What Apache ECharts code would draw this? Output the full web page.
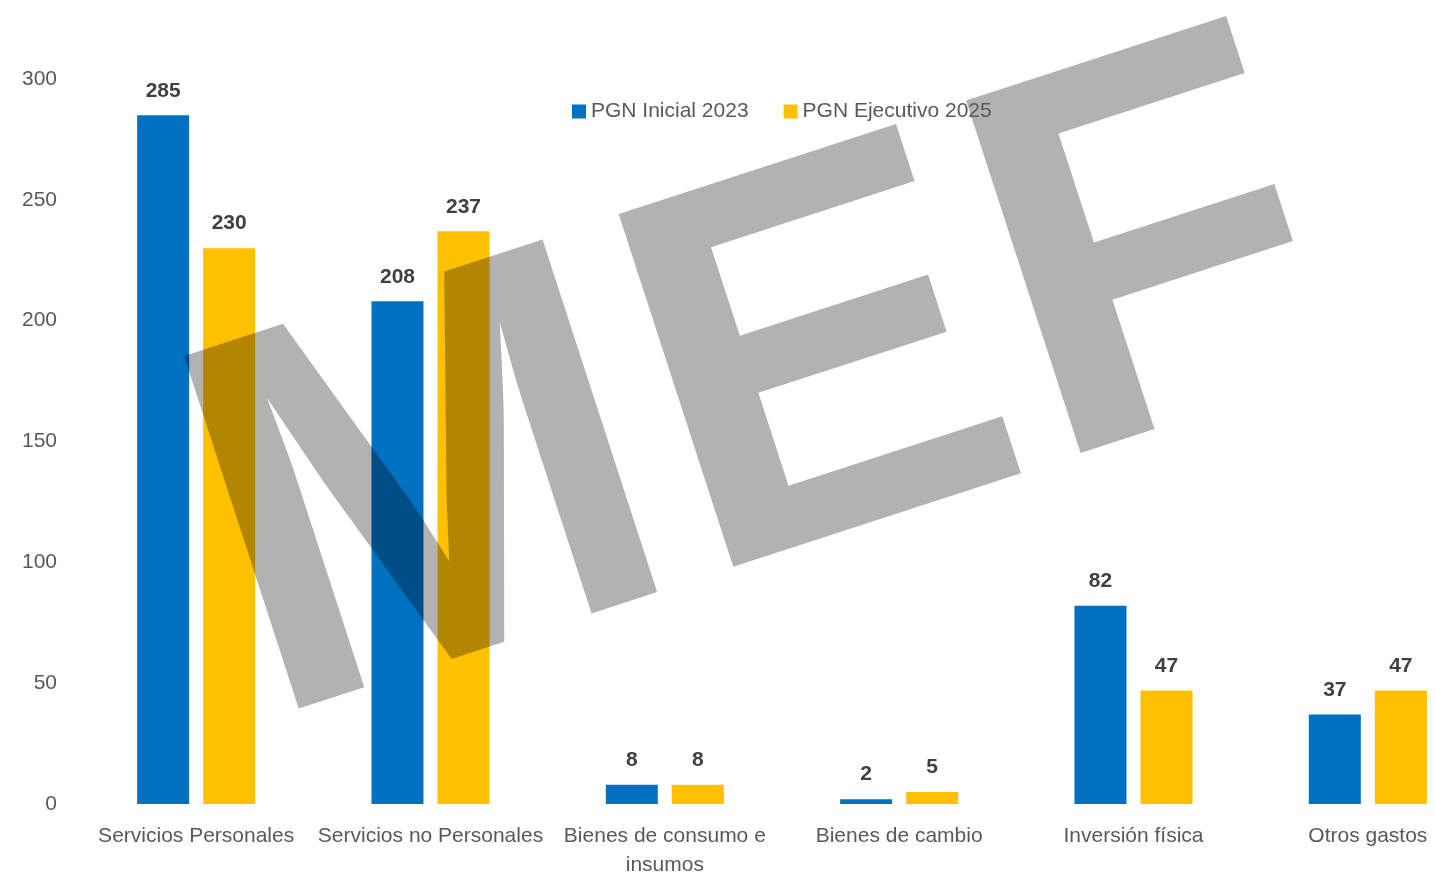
<!DOCTYPE html>
<html>
<head>
<meta charset="utf-8">
<script src="https://cdn.jsdelivr.net/npm/echarts@6/dist/echarts.min.js"></script>
<style>
  html, body { margin: 0; padding: 0; background: #fff; }
  #chart { width: 1435px; height: 877px; }
</style>
</head>
<body>
<div id="chart"></div>
<script>
// categorías y montos
var categorias = [
  "Servicios Personales",
  "Servicios no Personales",
  "Bienes de consumo e\ninsumos",
  "Bienes de cambio",
  "Inversión física",
  "Otros gastos"
];
var inicial2023 = [285, 208, 8, 2, 82, 37];
var ejecutivo2025 = [230, 237, 8, 5, 47, 47];
var series = ["PGN Inicial 2023", "PGN Ejecutivo 2025"];

var FONT = "'Liberation Sans', Arial, sans-serif";

var myChart = echarts.init(document.getElementById("chart"));

// marca de agua "MEF", cada letra por separado
var ang = 18 * Math.PI / 180;
function letra(txt, x, y) {
  return {
    type: "text",
    x: x,
    y: y,
    rotation: ang,
    z: 50,
    silent: true,
    style: {
      text: txt,
      x: 0,
      y: 0,
      fill: "rgba(0,0,0,0.3)",
      font: "bold 539px " + FONT,
      textAlign: "center",
      textVerticalAlign: "middle"
    }
  };
}

var option = {
  color: ["#0070C0", "#FFC000"],
  animation: false,
  textStyle: { fontFamily: FONT },
  grid: {
    left: 79,
    top: 79,
    width: 1406,
    bottom: 73,
    outerBoundsMode: "none"
  },
  legend: {
    data: series,
    left: 572,
    top: 101,
    padding: 0,
    z: 100,
    icon: "rect",
    itemWidth: 14,
    itemHeight: 14,
    itemGap: 35,
    textStyle: { color: "#595959", fontSize: 21 }
  },
  xAxis: {
    type: "category",
    data: categorias,
    axisLine: { show: false },
    axisTick: { show: false },
    axisLabel: {
      color: "#595959",
      fontSize: 21,
      lineHeight: 29,
      margin: 18,
      interval: 0
    }
  },
  yAxis: {
    type: "value",
    min: 0,
    max: 300,
    interval: 50,
    splitLine: { show: false },
    axisLine: { show: false },
    axisTick: { show: false },
    axisLabel: { color: "#595959", fontSize: 21, margin: 22 }
  },
  series: [
    {
      name: series[0],
      type: "bar",
      data: inicial2023,
      barWidth: 52,
      barGap: "27%",
      label: {
        show: true,
        position: "top",
        distance: 14,
        color: "#404040",
        fontWeight: "bold",
        fontSize: 21
      }
    },
    {
      name: series[1],
      type: "bar",
      data: ejecutivo2025,
      barWidth: 52,
      label: {
        show: true,
        position: "top",
        distance: 14,
        color: "#404040",
        fontWeight: "bold",
        fontSize: 21
      }
    }
  ],
  graphic: {
    elements: [
      letra("M", 432, 509),
      letra("E", 824, 381),
      letra("F", 1157, 272)
    ]
  }
};

myChart.setOption(option);
</script>
</body>
</html>
